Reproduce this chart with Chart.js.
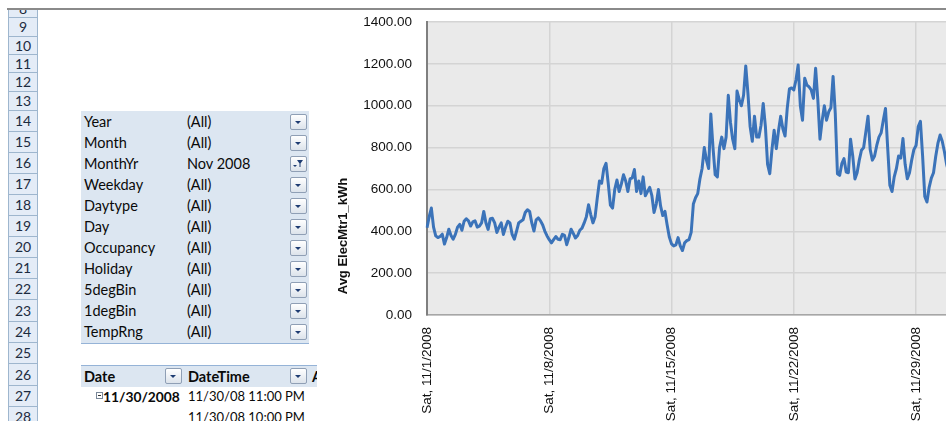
<!DOCTYPE html>
<html>
<head>
<meta charset="utf-8">
<script src="https://cdn.jsdelivr.net/npm/chart.js@4.4.0/dist/chart.umd.min.js"></script>
<style>
html, body { margin: 0; padding: 0; background: #fff; }
body { width: 946px; height: 421px; overflow: hidden; position: relative; font-family: Lato, 'Open Sans', sans-serif; font-size: 14px; color: #0a0a0a; }
.rh { position: absolute; left: 8px; width: 30px; box-sizing: border-box; border-left: 1px solid #9eb6ce; border-right: 1px solid #9eb6ce; border-bottom: 1px solid #9eb6ce; background: #e4ecf7; text-align: center; color: #1c2b40; font-size: 14px; }
#cover { position: absolute; left: 0; top: 0; width: 946px; height: 9px; background: #fff; z-index: 3; }
#frame { position: absolute; left: 7px; top: 8px; width: 939px; border-top: 2px solid #8a8a8a; z-index: 4; }
#filters { position: absolute; left: 81px; top: 111px; width: 228px; height: 232px; background: #dce6f1; border-bottom: 1px solid #95b3d7; }
.fl { position: absolute; left: 3px; height: 21px; line-height: 21px; font-size: 14.5px; }
.fv { position: absolute; left: 106px; height: 21px; line-height: 21px; font-size: 14.5px; }
.btn { position: absolute; width: 17px; height: 16px; box-sizing: border-box; border: 1px solid #8f9fb5; border-radius: 2px; background: linear-gradient(#ffffff, #dce3eb); }
.btn i { position: absolute; left: 4px; top: 6px; width: 0; height: 0; border-left: 3.5px solid transparent; border-right: 3.5px solid transparent; border-top: 3.5px solid #1e3c72; }
#hdr { position: absolute; left: 81px; top: 365px; width: 236px; height: 21px; background: #dce6f1; border-top: 1px solid #95b3d7; }
.cell { position: absolute; height: 21px; line-height: 21px; white-space: nowrap; font-size: 13px; }
.b { font-weight: bold; font-size: 14.5px; }
.bd { font-weight: bold; font-size: 13.8px; }
#minus { position: absolute; left: 96px; top: 392px; width: 7px; height: 7px; box-sizing: border-box; border: 1px solid #7a8899; background: #fff; }
#minus i { position: absolute; left: 1px; top: 2px; width: 3px; height: 1px; background: #333; }
#chartBox { position: absolute; left: 317px; top: 10px; width: 660px; height: 411px; background: #fff; }
</style>
</head>
<body>
<div id="cover"></div>
<div id="frame"></div>
<div id="rows"></div>

<div id="filters">
  <div class="fl" style="top:0px">Year</div><div class="fv" style="top:0px">(All)</div>
  <div class="fl" style="top:21px">Month</div><div class="fv" style="top:21px">(All)</div>
  <div class="fl" style="top:42px">MonthYr</div><div class="fv" style="top:42px">Nov 2008</div>
  <div class="fl" style="top:63px">Weekday</div><div class="fv" style="top:63px">(All)</div>
  <div class="fl" style="top:84px">Daytype</div><div class="fv" style="top:84px">(All)</div>
  <div class="fl" style="top:105px">Day</div><div class="fv" style="top:105px">(All)</div>
  <div class="fl" style="top:126px">Occupancy</div><div class="fv" style="top:126px">(All)</div>
  <div class="fl" style="top:147px">Holiday</div><div class="fv" style="top:147px">(All)</div>
  <div class="fl" style="top:168px">5degBin</div><div class="fv" style="top:168px">(All)</div>
  <div class="fl" style="top:189px">1degBin</div><div class="fv" style="top:189px">(All)</div>
  <div class="fl" style="top:210px">TempRng</div><div class="fv" style="top:210px">(All)</div>
  <div class="btn" style="left:209px;top:3px"><i></i></div>
  <div class="btn" style="left:209px;top:24px"><i></i></div>
  <div class="btn" style="left:209px;top:45px">
    <svg width="15" height="14" style="position:absolute;left:0;top:0"><polygon points="6,3 12,3 9.5,6.5 9.5,10 8.5,10 8.5,6.5" fill="#1e3c72"/><polygon points="2,8 6,8 4,10" fill="#1e3c72"/></svg>
  </div>
  <div class="btn" style="left:209px;top:66px"><i></i></div>
  <div class="btn" style="left:209px;top:87px"><i></i></div>
  <div class="btn" style="left:209px;top:108px"><i></i></div>
  <div class="btn" style="left:209px;top:129px"><i></i></div>
  <div class="btn" style="left:209px;top:150px"><i></i></div>
  <div class="btn" style="left:209px;top:171px"><i></i></div>
  <div class="btn" style="left:209px;top:192px"><i></i></div>
  <div class="btn" style="left:209px;top:213px"><i></i></div>
</div>

<div id="hdr">
  <div class="cell b" style="left:3px">Date</div>
  <div class="btn" style="left:84px;top:2px"><i></i></div>
  <div class="cell b" style="left:107px">DateTime</div>
  <div class="btn" style="left:209px;top:2px"><i></i></div>
  <div class="cell b" style="left:231px">A</div>
</div>
<div id="minus"><i></i></div>
<div class="cell bd" style="left:103px;top:386px">11/30/2008</div>
<div class="cell" style="left:188px;top:386px">11/30/08 11:00 PM</div>
<div class="cell" style="left:188px;top:407px">11/30/08 10:00 PM</div>

<div id="chartBox"><canvas id="elecChart" width="660" height="411"></canvas></div>

<script>
// days of Nov 2008 and the 3-hour steps inside each day
const days = ['11/1/2008', '11/2/2008', '11/3/2008', '11/4/2008', '11/5/2008', '11/6/2008', '11/7/2008',
    '11/8/2008', '11/9/2008', '11/10/2008', '11/11/2008', '11/12/2008', '11/13/2008', '11/14/2008',
    '11/15/2008', '11/16/2008', '11/17/2008', '11/18/2008', '11/19/2008', '11/20/2008', '11/21/2008',
    '11/22/2008', '11/23/2008', '11/24/2008', '11/25/2008', '11/26/2008', '11/27/2008', '11/28/2008',
    '11/29/2008', '11/30/2008'];
const hours = ['12:00 AM', '3:00 AM', '6:00 AM', '9:00 AM', '12:00 PM', '3:00 PM', '6:00 PM', '9:00 PM'];

// Avg ElecMtr1_kWh, one row per day
const kwh = [
    417, 470, 511, 420, 378, 370, 375, 386,
    339, 370, 410, 380, 362, 385, 420, 433,
    405, 448, 460, 450, 425, 445, 450, 420,
    425, 440, 495, 440, 409, 460, 462, 440,
    394, 420, 440, 385, 420, 448, 440, 385,
    362, 400, 440, 448, 455, 490, 503, 495,
    440, 401, 455, 464, 450, 430, 400, 378,
    360, 345, 360, 375, 362, 360, 385, 380,
    336, 370, 410, 390, 368, 380, 405, 415,
    440, 470, 527, 480, 440, 470, 560, 640,
    630, 700, 725, 630, 525, 511, 600, 645,
    590, 625, 670, 640, 590, 650, 655, 695,
    590, 640, 580, 660, 570, 590, 610, 570,
    490, 530, 600, 520, 475, 495, 430, 372,
    340, 330, 335, 370, 330, 308, 345, 355,
    360, 395, 530, 560, 580, 650, 700, 800,
    740, 700, 960, 800, 670, 660, 800, 850,
    795, 850, 1050, 920, 840, 795, 1070, 1030,
    1000, 1050, 1190, 1059, 900, 830, 950, 850,
    850, 907, 1011, 900, 720, 675, 790, 883,
    795, 880, 950, 890, 855, 987, 1080, 1085,
    1075, 1123, 1195, 1000, 931, 1131, 1099, 1090,
    1075, 1035, 1179, 1030, 840, 930, 1000, 931,
    971, 990, 1140, 963, 675, 667, 723, 747,
    683, 680, 840, 760, 650, 680, 740, 787,
    800, 875, 950, 790, 740, 760, 810, 850,
    870, 930, 987, 800, 620, 590, 660, 700,
    760, 750, 843, 720, 651, 680, 740, 790,
    810, 900, 925, 760, 567, 540, 610, 654,
    680, 757, 820, 860, 830, 780, 720, 680
];

const tickLabels = ['Sat, 11/1/2008', 'Sat, 11/8/2008', 'Sat, 11/15/2008', 'Sat, 11/22/2008', 'Sat, 11/29/2008'];
const rowNums = [8, 9, 10, 11, 12, 13, 14, 15, 16, 17, 18, 19, 20, 21, 22, 23, 24, 25, 26, 27, 28];

// spreadsheet row headers on the left
const rowTops = [0, 18, 37, 55, 73, 92, 111, 132, 153, 174, 195, 216, 237, 258, 279, 300, 322, 343, 364, 386, 407, 428];
const rowsDiv = document.getElementById('rows');
rowNums.forEach((n, i) => {
    const d = document.createElement('div');
    d.className = 'rh';
    const h = rowTops[i + 1] - rowTops[i];
    d.style.top = rowTops[i] + 'px';
    d.style.height = h + 'px';
    d.style.lineHeight = (h - 1) + 'px';
    d.textContent = n;
    rowsDiv.appendChild(d);
});

const categories = days.flatMap(d => hours.map(h => d + ' ' + h));
const perWeek = 7 * hours.length;

// grey plot area behind the line
const plotBg = {
    id: 'plotBg',
    beforeDraw(chart) {
        const { ctx, chartArea: a } = chart;
        ctx.save();
        ctx.fillStyle = '#eaeaea';
        ctx.fillRect(a.left, a.top, a.right - a.left, a.bottom - a.top);
        ctx.restore();
    }
};

// axis title sits lower than the plot centre in the original
const yTitle = {
    id: 'yTitle',
    afterDraw(chart) {
        const ctx = chart.ctx;
        ctx.save();
        ctx.translate(26, 226);
        ctx.rotate(-Math.PI / 2);
        ctx.font = "bold 13px 'Liberation Sans', Arial, sans-serif";
        ctx.fillStyle = '#111';
        ctx.textAlign = 'center';
        ctx.textBaseline = 'middle';
        ctx.fillText('Avg ElecMtr1_kWh', 0, 0);
        ctx.restore();
    }
};

Chart.defaults.font.family = "'Liberation Sans', Arial, sans-serif";
Chart.defaults.font.size = 13.5;
Chart.defaults.color = '#111';

const ctx = document.getElementById('elecChart').getContext('2d');
new Chart(ctx, {
    type: 'line',
    data: {
        labels: categories,
        datasets: [{
            label: 'Avg ElecMtr1_kWh',
            data: kwh,
            borderColor: '#3b73b9',
            borderWidth: 3,
            borderJoinStyle: 'round',
            pointRadius: 0,
            tension: 0,
            fill: false,
        }],
    },
    options: {
        responsive: false,
        animation: false,
        devicePixelRatio: 1,
        layout: { padding: { top: 12, right: 19.7, left: 0, bottom: 0 } },
        plugins: {
            legend: { display: false },
            tooltip: { enabled: false },
        },
        scales: {
            x: {
                offset: false,
                afterFit(scale) { scale.height = 106; },
                border: { color: '#a6a6a6', width: 1.5 },
                grid: {
                    drawTicks: false,
                    lineWidth: 1.5,
                    color: c => (c.index % perWeek === 0 ? '#d4d4d4' : 'rgba(0,0,0,0)'),
                },
                ticks: {
                    autoSkip: false,
                    minRotation: 90,
                    maxRotation: 90,
                    padding: 12,
                    callback: (v, i) => (i % perWeek === 0 ? tickLabels[i / perWeek] : ''),
                },
            },
            y: {
                min: 0,
                max: 1400,
                afterFit(scale) {
                    scale.width = 110;
                    scale.paddingTop = 0;
                    scale.paddingBottom = 0;
                },
                border: { color: '#7f7f7f', width: 2 },
                grid: { drawTicks: false, color: '#d4d4d4', lineWidth: 1.5 },
                ticks: {
                    stepSize: 200,
                    padding: 15,
                    callback: v => v.toFixed(2),
                },
            },
        },
    },
    plugins: [plotBg, yTitle],
});
</script>
</body>
</html>
